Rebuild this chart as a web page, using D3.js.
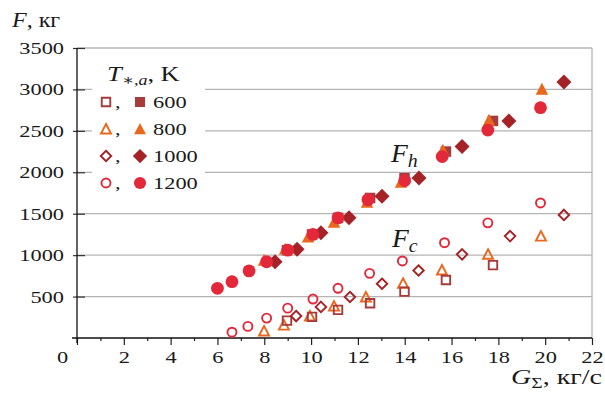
<!DOCTYPE html>
<html>
<head>
<meta charset="utf-8">
<script src="https://cdn.jsdelivr.net/npm/d3@7"></script>
<style>
  body { margin: 0; background: #fff; }
  svg { display: block; font-family: "Liberation Serif", "DejaVu Serif", serif; }
</style>
</head>
<body>
<div id="chart"></div>
<script>
// temperatures T*,a, K
const temps = ["600", "800", "1000", "1200"];
const colors = ["#a63b3b", "#ea671e", "#a52227", "#e3283a"];
const shapes = ["square", "triangle", "diamond", "circle"];

// F_h (filled markers)
const fh600x = [8.97, 10.04, 11.15, 12.52, 13.99, 15.76, 17.77];
const fh600y = [1060, 1250, 1450, 1690, 1930, 2250, 2620];
const fh800x = [7.99, 8.89, 9.87, 10.98, 12.39, 13.84, 15.63, 17.6, 19.86];
const fh800y = [940, 1075, 1220, 1400, 1640, 1880, 2270, 2630, 3005];
const fh1000x = [8.46, 9.4, 10.42, 11.62, 13.03, 14.61, 16.45, 18.45, 20.8];
const fh1000y = [920, 1070, 1270, 1450, 1710, 1930, 2310, 2620, 3090];
const fh1200x = [6.0, 6.62, 7.35, 8.1, 9.0, 10.08, 11.15, 12.43, 14.0, 15.6, 17.55, 19.8];
const fh1200y = [600, 680, 810, 920, 1060, 1250, 1450, 1670, 1900, 2190, 2510, 2780];

// F_c (hollow markers)
const fc600x = [8.97, 10.04, 11.15, 12.52, 13.99, 15.76, 17.77];
const fc600y = [210, 255, 340, 420, 560, 700, 880];
const fc800x = [7.99, 8.84, 9.95, 10.98, 12.34, 13.93, 15.59, 17.56, 19.82];
const fc800y = [85, 155, 265, 385, 495, 660, 820, 1010, 1230];
const fc1000x = [9.36, 10.42, 11.66, 13.03, 14.59, 16.45, 18.5, 20.8];
const fc1000y = [265, 375, 495, 655, 815, 1010, 1230, 1485];
const fc1200x = [6.62, 7.3, 8.1, 9.0, 10.08, 11.15, 12.5, 13.9, 15.7, 17.55, 19.8];
const fc1200y = [70, 140, 240, 360, 470, 600, 780, 930, 1150, 1390, 1630];

const xMajor = [0, 2, 4, 6, 8, 10, 12, 14, 16, 18, 20, 22];
const xMinor = [1, 3, 5, 7, 9, 11, 13, 15, 17, 19, 21];
const yTicks = [500, 1000, 1500, 2000, 2500, 3000, 3500];

const filled = [[fh600x, fh600y], [fh800x, fh800y], [fh1000x, fh1000y], [fh1200x, fh1200y]];
const hollow = [[fc600x, fc600y], [fc800x, fc800y], [fc1000x, fc1000y], [fc1200x, fc1200y]];

const width = 605, height = 395;
const svg = d3.select("#chart").append("svg")
    .attr("width", width)
    .attr("height", height);

const x = d3.scaleLinear().domain([0, 22]).range([77, 592]);
const y = d3.scaleLinear().domain([0, 3500]).range([338, 48]);

const NUM = 1.4; // horizontal stretch of the digits

// marker outlines, centred on 0,0
function shapePath(type, s) {
    const h = s / 2;
    if (type === "square") return `M${-h},${-h}H${h}V${h}H${-h}Z`;
    if (type === "triangle") return `M0,${-h}L${h},${h * 0.9}L${-h},${h * 0.9}Z`;
    if (type === "diamond") return `M0,${-h}L${h},0L0,${h}L${-h},0Z`;
    return d3.arc()({ innerRadius: 0, outerRadius: h, startAngle: 0, endAngle: 2 * Math.PI });
}
const filledSize = { square: 10.5, triangle: 12.5, diamond: 15, circle: 12.8 };
const hollowSize = { square: 8.5, triangle: 10, diamond: 10.5, circle: 9 };

function tex(px, py, size, sx, parts, anchor) {
    const t = svg.append("text")
        .attr("transform", `translate(${px},${py}) scale(${sx},1)`)
        .attr("font-size", size)
        .attr("fill", "#1a1a1a")
        .attr("text-anchor", anchor || "start");
    let shift = 0;
    parts.forEach(p => {
        const s = t.append("tspan").text(p.t);
        if (p.it) s.attr("font-style", "italic");
        if (p.size) s.attr("font-size", p.size);
        const target = p.sub || 0;
        if (target !== shift) { s.attr("dy", target - shift); shift = target; }
    });
    return t;
}

// grid
const grid = svg.append("g").attr("stroke", "#b4b4b4").attr("stroke-width", 1.3);
grid.selectAll("line.h").data(yTicks).join("line")
    .attr("x1", x(0)).attr("x2", x(22))
    .attr("y1", d => y(d)).attr("y2", d => y(d));
grid.append("line")
    .attr("x1", x(22)).attr("x2", x(22))
    .attr("y1", y(3500)).attr("y2", y(0));

// x axis
const xAxis = svg.append("g").attr("transform", `translate(0,${y(0)})`)
    .call(d3.axisBottom(x).tickValues(xMajor).tickSize(7).tickFormat(d3.format("d")))
    .attr("font-family", null).attr("font-size", null);
xAxis.select(".domain").remove();
xAxis.selectAll(".tick line").attr("stroke", "#222").attr("stroke-width", 1.2);
xAxis.selectAll(".tick text")
    .attr("font-size", 16).attr("fill", "#1a1a1a")
    .attr("y", 0).attr("dy", 0)
    .attr("x", d => d === 0 ? -15 / NUM : 0)
    .attr("transform", `translate(0,25) scale(${NUM},1)`);

const xMinorAxis = svg.append("g").attr("transform", `translate(0,${y(0)})`)
    .call(d3.axisBottom(x).tickValues(xMinor).tickSize(3).tickFormat(""));
xMinorAxis.select(".domain").remove();
xMinorAxis.selectAll(".tick line").attr("stroke", "#222").attr("stroke-width", 1.2);

// y axis
const yAxis = svg.append("g").attr("transform", `translate(${x(0)},0)`)
    .call(d3.axisLeft(y).tickValues(yTicks).tickSize(4).tickFormat(d3.format("d")))
    .attr("font-family", null).attr("font-size", null);
yAxis.select(".domain").remove();
yAxis.selectAll(".tick line").attr("x1", 8).attr("x2", -4).attr("stroke", "#333").attr("stroke-width", 1.2);
yAxis.selectAll(".tick text")
    .attr("font-size", 16).attr("fill", "#1a1a1a")
    .attr("x", -13 / NUM).attr("dy", "0.34em")
    .attr("transform", `scale(${NUM},1)`);

svg.append("line").attr("stroke", "#111").attr("stroke-width", 1.3)
    .attr("x1", x(0) - 5).attr("x2", x(22)).attr("y1", y(0)).attr("y2", y(0));
svg.append("line").attr("stroke", "#111").attr("stroke-width", 1.3)
    .attr("x1", x(0)).attr("x2", x(0)).attr("y1", y(3500)).attr("y2", y(0) + 5);

// hollow markers (F_c)
const hollowOrder = [1, 0, 2, 3];
hollowOrder.forEach(i => {
    const [xs, ys] = hollow[i];
    svg.append("g").selectAll("path").data(xs).join("path")
        .attr("transform", (d, j) => `translate(${x(d)},${y(ys[j])})`)
        .attr("d", shapePath(shapes[i], hollowSize[shapes[i]]))
        .attr("fill", "none")
        .attr("stroke", colors[i])
        .attr("stroke-width", 1.9);
});

// filled markers (F_h)
[0, 1, 2, 3].forEach(i => {
    const [xs, ys] = filled[i];
    svg.append("g").selectAll("path").data(xs).join("path")
        .attr("transform", (d, j) => `translate(${x(d)},${y(ys[j])})`)
        .attr("d", shapePath(shapes[i], filledSize[shapes[i]]))
        .attr("fill", colors[i]);
});

// curve labels
tex(391, 162, 25, 1.1, [{ t: "F", it: true }, { t: "h", it: true, size: 18, sub: 5 }]);
tex(392, 247, 25, 1.1, [{ t: "F", it: true }, { t: "c", it: true, size: 18, sub: 5 }]);

// legend
svg.append("rect").attr("x", 92).attr("y", 57).attr("width", 113).attr("height", 138).attr("fill", "#fff");
tex(107, 81, 22, 1.2, [
    { t: "T", it: true },
    { t: "∗,", size: 15, sub: 4 },
    { t: "a", it: true, size: 15, sub: 4 },
    { t: ", K", sub: 0 }
]);
const legendRows = [102, 129, 156, 183];
const leg = svg.append("g");
temps.forEach((tLabel, i) => {
    const cy = legendRows[i];
    leg.append("path")
        .attr("transform", `translate(106,${cy})`)
        .attr("d", shapePath(shapes[i], hollowSize[shapes[i]]))
        .attr("fill", "none").attr("stroke", colors[i]).attr("stroke-width", 1.9);
    leg.append("path")
        .attr("transform", `translate(140,${cy})`)
        .attr("d", shapePath(shapes[i], filledSize[shapes[i]] * 0.95))
        .attr("fill", colors[i]);
    tex(115, cy + 6, 16, NUM, [{ t: "," }]);
    tex(153, cy + 6, 16, NUM, [{ t: tLabel }]);
});

// axis titles
tex(12, 27, 20, 1.2, [{ t: "F", it: true }, { t: ", кг" }]);
tex(602, 384, 20, 1.4, [
    { t: "G", it: true },
    { t: "Σ", size: 14, sub: 4 },
    { t: ", кг/с", sub: 0 }
], "end");
</script>
</body>
</html>
